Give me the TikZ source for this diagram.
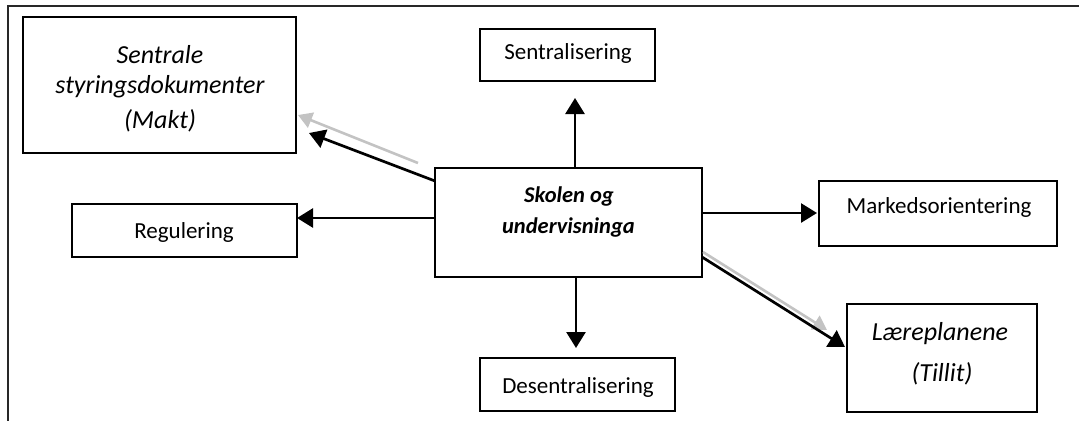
\documentclass[tikz,border=0pt]{standalone}
\usepackage{fontspec}
\setmainfont{Carlito}
\usetikzlibrary{arrows.meta}
\begin{document}
\begin{tikzpicture}[x=1pt,y=-1pt,
  box/.style={draw=black, line width=1.3pt, inner sep=0pt, outer sep=0pt},
  reg/.style={anchor=base, inner sep=0pt, font=\fontsize{23}{27}\selectfont},
  ital/.style={anchor=base, inner sep=0pt, font=\fontsize{26}{30}\selectfont\itshape},
  bital/.style={anchor=base, inner sep=0pt, font=\fontsize{22.5}{27}\selectfont\bfseries\itshape},
  arr/.style={draw=black, line width=2.7pt, -{Triangle[length=16pt,width=19pt]}},
  garr/.style={draw={rgb,255:red,195;green,195;blue,195}, line width=2.6pt, -{Triangle[length=14pt,width=16pt]}},
  frame/.style={draw={rgb,255:red,40;green,40;blue,40}, line width=1.8pt}]
\useasboundingbox (0,0) rectangle (1079,421);
% outer frame
\coordinate (ftr) at (1079,6);
\coordinate (ftl) at (8,6);
\coordinate (fbl) at (8,421);
\draw[frame] (ftr) -- (ftl) -- (fbl);
% boxes
\node[box, minimum width=273pt, minimum height=136pt] (st) at (159.5,85) {};
\node[box, minimum width=267pt, minimum height=109pt] (c) at (568.5,222.5) {};
\node[box, minimum width=175pt, minimum height=52pt] (sz) at (567.5,55) {};
\node[box, minimum width=225pt, minimum height=53pt] (rg) at (184.5,230.5) {};
\node[box, minimum width=238pt, minimum height=65pt] (mk) at (938,213.5) {};
\node[box, minimum width=195pt, minimum height=53pt] (ds) at (577.5,384.5) {};
\node[box, minimum width=190pt, minimum height=108pt] (lp) at (942,358) {};
% texts
\node[ital] (st1) at (160,63) {Sentrale};
\node[ital] (st2) at (160,93) {styringsdokumenter};
\node[ital] (st3) at (160,128) {(Makt)};
\node[bital] (c1) at (569,202) {Skolen og};
\node[bital] (c2) at (568.5,233) {undervisninga};
\node[reg] (szt) at (568,59) {Sentralisering};
\node[reg] (rgt) at (184,238) {Regulering};
\node[reg] (mkt) at (939,213) {Markedsorientering};
\node[reg] (dst) at (578,393) {Desentralisering};
\node[ital] (lp1) at (940,340) {Læreplanene};
\node[ital] (lp2) at (942,381) {(Tillit)};
% arrows
\draw[arr, shorten >=17pt] ([xshift=6.5pt]c.north) -- ([xshift=7.5pt]sz.south);
\draw[arr, shorten >=10pt] ([xshift=7.5pt]c.south) -- ([xshift=-1.5pt]ds.north);
\draw[arr] ([yshift=4.5pt]c.west) -- ([yshift=12.5pt]rg.east);
\draw[arr, shorten >=2pt] ([yshift=9.5pt]c.east) -- ([yshift=0.5pt]mk.west);
\draw[garr] ([xshift=-17pt,yshift=59.5pt]c.west) -- ([xshift=2pt,yshift=-30pt]st.east);
\draw[arr] ([yshift=41.5pt]c.west) -- ([xshift=13pt,yshift=-48pt]st.east);
\draw[garr] ([xshift=1pt,yshift=-29.5pt]c.east) -- ([xshift=-20pt,yshift=28pt]lp.west);
\draw[arr] ([yshift=-34.5pt]c.east) -- ([xshift=-2pt,yshift=11pt]lp.west);
\end{tikzpicture}
\end{document}
